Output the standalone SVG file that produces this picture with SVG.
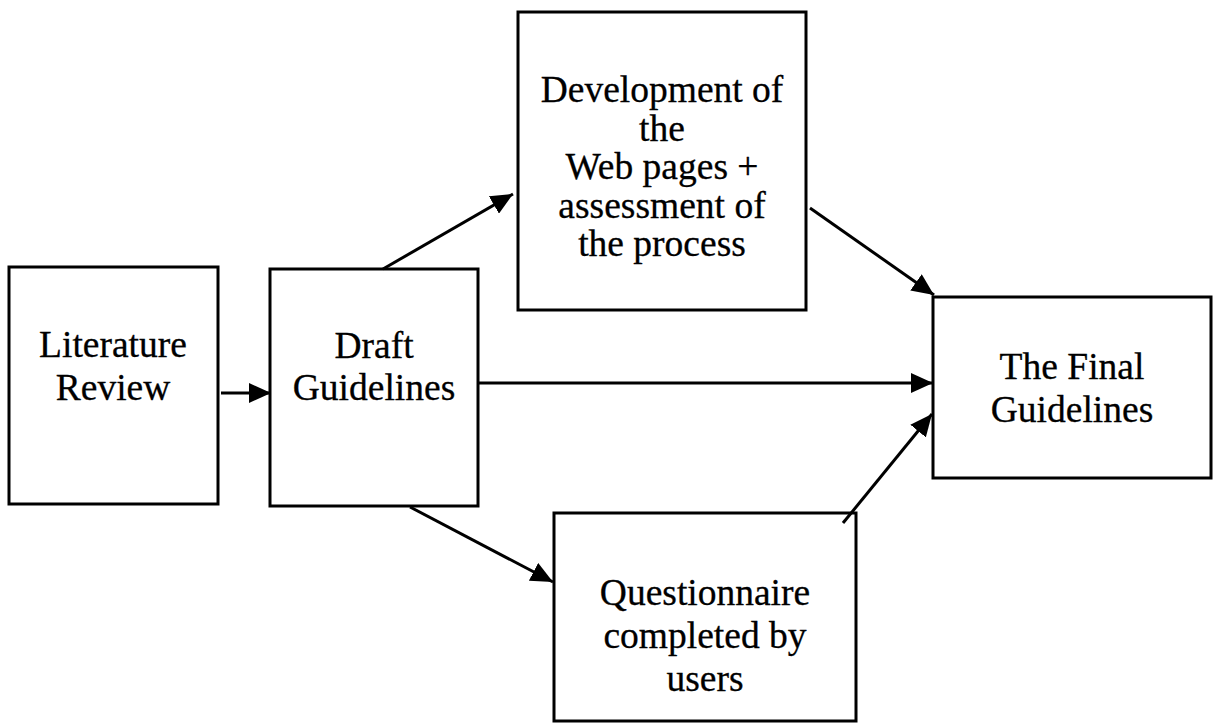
<svg xmlns="http://www.w3.org/2000/svg" width="1218" height="724" viewBox="0 0 1218 724">
<style>
.box{fill:#fff;stroke:#000;stroke-width:3}
.lbl{font-family:"Liberation Serif","Times New Roman",serif;font-size:37.5px;fill:#000;stroke:#000;stroke-width:0.3;text-anchor:middle}
.con{stroke:#000;stroke-width:3;fill:none;marker-end:url(#ah)}
</style>
<defs>
<marker id="ah" markerUnits="userSpaceOnUse" markerWidth="24" markerHeight="20" refX="22" refY="10" orient="auto">
<path d="M0,0 L22,10 L0,20 Z" fill="#000"/>
</marker>
</defs>
<rect width="1218" height="724" fill="#fff"/>
<g id="lit">
<rect class="box" x="9" y="267" width="209" height="237"/>
<text class="lbl" x="113" y="357">Literature</text>
<text class="lbl" x="113" y="400">Review</text>
</g>
<g id="draft">
<rect class="box" x="270" y="269" width="208" height="237"/>
<text class="lbl" x="374" y="358">Draft</text>
<text class="lbl" x="374" y="400">Guidelines</text>
</g>
<g id="dev">
<rect class="box" x="518" y="12" width="288" height="298"/>
<text class="lbl" x="662" y="102">Development of</text>
<text class="lbl" x="662" y="141">the</text>
<text class="lbl" x="662" y="179">Web pages +</text>
<text class="lbl" x="662" y="218">assessment of</text>
<text class="lbl" x="662" y="256">the process</text>
</g>
<g id="final">
<rect class="box" x="933" y="297" width="278" height="181"/>
<text class="lbl" x="1072" y="379">The Final</text>
<text class="lbl" x="1072" y="422">Guidelines</text>
</g>
<g id="quest">
<rect class="box" x="554" y="513" width="302" height="208"/>
<text class="lbl" x="705" y="605">Questionnaire</text>
<text class="lbl" x="705" y="648">completed by</text>
<text class="lbl" x="705" y="691">users</text>
</g>
<g id="connectors">
<line class="con" x1="221" y1="393" x2="271" y2="393"/>
<line class="con" x1="478" y1="383" x2="933" y2="383"/>
<line class="con" x1="383" y1="269" x2="513" y2="194"/>
<line class="con" x1="810" y1="208" x2="934" y2="295"/>
<line class="con" x1="843" y1="523" x2="932" y2="414"/>
<line class="con" x1="410" y1="507" x2="553" y2="582"/>
</g>
</svg>
